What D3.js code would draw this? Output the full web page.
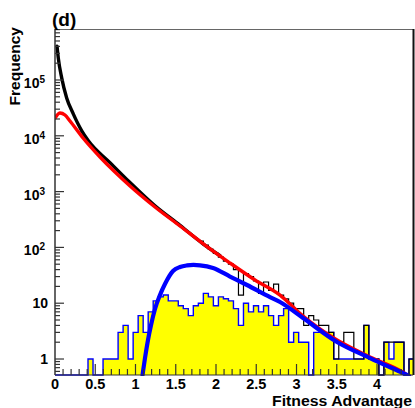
<!DOCTYPE html>
<html>
<head>
<meta charset="utf-8">
<script src="https://cdn.jsdelivr.net/npm/d3@7"></script>
<style>
body { margin: 0; background: #fff; }
text { font-family: "Liberation Sans", Arial, Helvetica, sans-serif; font-weight: bold; fill: #000; }
</style>
</head>
<body>
<script>
// binning of both histograms (fitness advantage)
const binStart = -0.0261;
const binWidth = 0.0623;

// yellow histogram, counts per bin
const selectedCounts = [
    0, 0, 0, 0, 0, 0, 0,
    1, 0, 0, 1, 1, 1, 3, 4, 1, 3,
    6, 3, 7, 11, 13, 14, 11, 11, 9, 8,
    6, 9, 10, 15, 13, 9, 13, 12, 11, 8,
    4, 10, 7, 9, 7, 9, 6, 4, 6, 8,
    2, 3, 2, 2, 0, 3, 3, 3, 3, 1,
    1, 1, 1, 1, 1, 4, 1, 1, 0, 2,
    1, 2, 2, 0, 1
];

// thin black histogram, only the part that sticks out of the curves
const allCountsFirstBin = 29;
const allCounts = [
    130, 110, 92, 78, 67, 57, 50, 40,
    14, 34, 30, 25, 15, 24, 17, 22, 14, 12,
    10, 8, 8, 4, 6, 5, 4, 4, 3, 1,
    2, 3, 3, 1, 1, 4, 1, 1, 0, 2,
    2, 2, 2, 0, 1
];

// thick black curve
const allCurveX = [0.025, 0.041, 0.083, 0.145, 0.227, 0.332, 0.414, 0.683, 0.932, 1.242, 1.553, 1.839, 2.05];
const allCurveY = [405000, 247000, 109000, 47700, 24700, 12300, 8150, 3300, 1450, 555, 248, 116, 71];

// red curve
const expFitX = [0, 0.062, 0.124, 0.186, 0.348, 0.559, 0.745, 0.932, 1.242, 1.553, 1.863, 2.174, 2.484, 2.795, 3.081, 3.503, 3.913, 4.323, 4.41, 4.447];
const expFitY = [20800, 25600, 23600, 18400, 9140, 4170, 2240, 1260, 530, 242, 110, 52.5, 26.1, 14.0, 5.9, 2.19, 1.09, 0.58, 0.476, 0.45];

// blue curve
const advFitX = [1.087, 1.118, 1.155, 1.193, 1.242, 1.304, 1.366, 1.466, 1.553, 1.64, 1.72, 1.801, 1.963, 2.174, 2.385, 2.671, 2.795, 3.081, 3.503, 3.913, 4.323, 4.398];
const advFitY = [0.517, 1.04, 2.19, 4.06, 7.87, 14.0, 22.1, 37.8, 44.6, 47.6, 48.6, 47.8, 42.8, 30.1, 21.2, 12.9, 10.5, 5.43, 2.02, 1.04, 0.56, 0.50];

const xTickLabels = ["0", "0.5", "1", "1.5", "2", "2.5", "3", "3.5", "4"];
const yDecades = [1, 10, 100, 1000, 10000, 100000];
const yExponents = [null, null, "2", "3", "4", "5"];

const width = 415, height = 408;
const frame = {left: 55, right: 413, top: 29, bottom: 375};

var x = d3.scaleLinear().domain([0, 4.447]).range([frame.left, frame.right]);
var y = d3.scaleLog().domain([0.517, 8.2e5]).range([frame.bottom, frame.top]);

function yv(c) { return c > 0 ? y(c) : frame.bottom; }

var svg = d3.select("body").append("svg")
    .attr("width", width)
    .attr("height", height);

svg.append("defs").append("clipPath")
    .attr("id", "plotclip")
    .append("rect")
    .attr("x", frame.left)
    .attr("y", frame.top)
    .attr("width", frame.right - frame.left)
    .attr("height", frame.bottom - frame.top + 1);

var plot = svg.append("g").attr("clip-path", "url(#plotclip)");

// histogram points: left edge of each bin, then closing edge
function histPoints(counts, first) {
    var pts = counts.map(function(c, i) { return [binStart + (first + i) * binWidth, c]; });
    pts.push([binStart + (first + counts.length) * binWidth, counts[counts.length - 1]]);
    return pts;
}

var selPts = histPoints(selectedCounts, 0);

plot.append("path")
    .datum(selPts)
    .attr("fill", "#ffff00")
    .attr("d", d3.area()
        .curve(d3.curveStepAfter)
        .x(function(d) { return x(d[0]); })
        .y0(frame.bottom)
        .y1(function(d) { return yv(d[1]); }));

var outline = [[selPts[0][0], 0]].concat(selPts, [[selPts[selPts.length - 1][0], 0]]);
var stepLine = d3.line()
    .curve(d3.curveStepAfter)
    .x(function(d) { return x(d[0]); })
    .y(function(d) { return yv(d[1]); });

plot.append("path")
    .datum(outline)
    .attr("fill", "none")
    .attr("stroke", "#0000ff")
    .attr("stroke-width", 1.4)
    .attr("d", stepLine);

plot.append("path")
    .datum(histPoints(allCounts, allCountsFirstBin))
    .attr("fill", "none")
    .attr("stroke", "#000")
    .attr("stroke-width", 1.2)
    .attr("d", stepLine);

function curve(xs, ys, color, w) {
    plot.append("path")
        .datum(xs.map(function(v, i) { return [v, ys[i]]; }))
        .attr("fill", "none")
        .attr("stroke", color)
        .attr("stroke-width", w)
        .attr("stroke-linecap", "round")
        .attr("stroke-linejoin", "round")
        .attr("d", d3.line()
            .curve(d3.curveMonotoneX)
            .x(function(d) { return x(d[0]); })
            .y(function(d) { return y(d[1]); }));
}

curve(allCurveX, allCurveY, "#000", 3.4);
curve(expFitX, expFitY, "#ff0000", 3.4);
curve(advFitX, advFitY, "#0000ff", 4.2);

// frame
svg.append("line")
    .attr("x1", frame.left).attr("x2", frame.right + 1)
    .attr("y1", frame.top + 0.5).attr("y2", frame.top + 0.5)
    .attr("stroke", "#666").attr("stroke-width", 1.2);
svg.append("line")
    .attr("x1", frame.right + 0.5).attr("x2", frame.right + 0.5)
    .attr("y1", frame.top).attr("y2", frame.bottom)
    .attr("stroke", "#111").attr("stroke-width", 2);
svg.append("line")
    .attr("x1", frame.left).attr("x2", frame.left)
    .attr("y1", frame.top).attr("y2", frame.bottom)
    .attr("stroke", "#333").attr("stroke-width", 1.5);
svg.append("line")
    .attr("x1", frame.left).attr("x2", frame.right)
    .attr("y1", frame.bottom).attr("y2", frame.bottom)
    .attr("stroke", "#333").attr("stroke-width", 1);

var axes = svg.append("g").attr("stroke", "#333").attr("stroke-width", 1.2);

// y ticks (log)
y.ticks().forEach(function(t) {
    var major = yDecades.indexOf(t) >= 0;
    var p = y(t);
    if (p < frame.top || p > frame.bottom) return;
    axes.append("line")
        .attr("x1", frame.left).attr("x2", frame.left + (major ? 9 : 5))
        .attr("y1", p).attr("y2", p);
});

// x ticks
x.ticks(45).forEach(function(t) {
    var major = Math.abs(t * 2 - Math.round(t * 2)) < 1e-6;
    if (t <= 0) return;
    axes.append("line")
        .attr("x1", x(t)).attr("x2", x(t))
        .attr("y1", frame.bottom).attr("y2", frame.bottom - (major ? 11 : 6));
});

// tick labels
svg.selectAll(".xlab")
    .data(xTickLabels)
    .enter().append("text")
    .attr("class", "xlab")
    .attr("x", function(d) { return x(+d); })
    .attr("y", 389)
    .attr("text-anchor", "middle")
    .attr("font-size", "14.5px")
    .text(function(d) { return d; });

yDecades.forEach(function(v, i) {
    var p = y(v);
    var t = svg.append("text")
        .attr("text-anchor", "end")
        .attr("font-size", "14px");
    if (yExponents[i] == null) {
        t.attr("x", 48).attr("y", p + 5).text(String(v));
    } else {
        t.attr("x", 45).attr("y", p + 8);
        t.append("tspan").text("10");
        t.append("tspan").attr("font-size", "10px").attr("dy", -5).text(yExponents[i]);
    }
});

// titles
svg.append("text")
    .attr("transform", "translate(20,27) rotate(-90)")
    .attr("text-anchor", "end")
    .attr("font-size", "15.5px")
    .text("Frequency");

svg.append("text")
    .attr("x", 272)
    .attr("y", 406)
    .attr("font-size", "14px")
    .attr("textLength", 140)
    .attr("lengthAdjust", "spacingAndGlyphs")
    .text("Fitness Advantage");

svg.append("text")
    .attr("x", 52)
    .attr("y", 26)
    .attr("font-size", "19px")
    .text("(d)");
</script>
</body>
</html>
